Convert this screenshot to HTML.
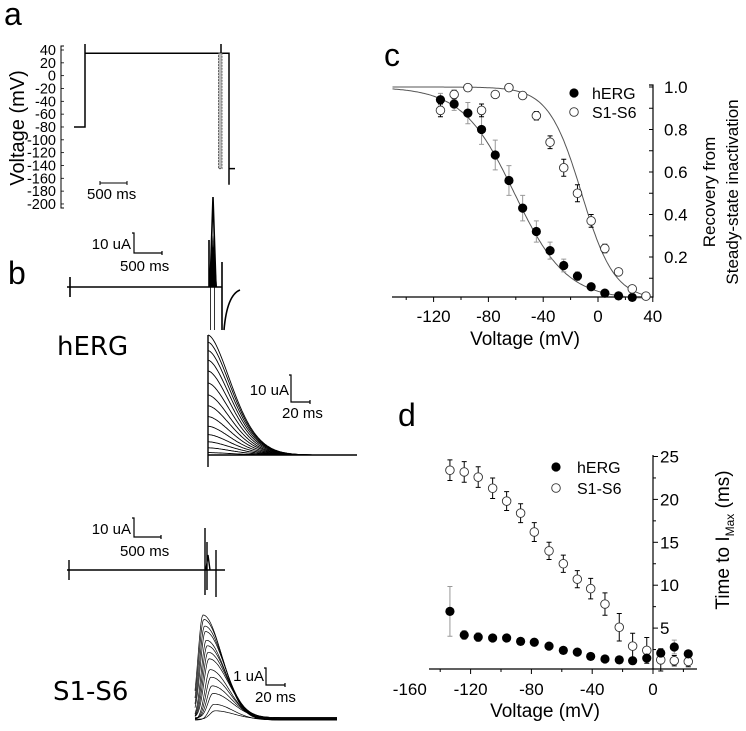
<!DOCTYPE html>
<html><head><meta charset="utf-8"><style>
body{margin:0;background:#fff}
svg{display:block;font-family:"Liberation Sans",sans-serif}
</style></head><body>
<svg id="fig" width="746" height="731" viewBox="0 0 746 731">
<g id="pa"></g>
<g id="pb"></g>
<g id="pc"></g>
<g id="pd"></g>
</svg>
<script>
// ---------- Panel c data ----------
const cHergV = [-115,-105,-95,-85,-75,-65,-55,-45,-35,-25,-15,-5,5,15,25];
const cHergY = [0.94,0.92,0.877,0.80,0.68,0.56,0.43,0.32,0.23,0.16,0.11,0.06,0.03,0.017,0.01];
const cHergErr = [0.03,0.03,0.05,0.07,0.07,0.07,0.06,0.05,0.04,0.03,0.02,0.01,0.01,0.01,0.01];
const cS1V = [-115,-105,-95,-85,-75,-65,-55,-45,-35,-25,-15,-5,5,15,25,35];
const cS1Y = [0.89,0.965,0.997,0.89,0.965,0.997,0.96,0.865,0.74,0.62,0.50,0.37,0.24,0.13,0.05,0.016];
const cS1Err = [0.03,0.02,0.01,0.03,0.01,0.01,0.01,0.02,0.03,0.04,0.04,0.03,0.02,0.01,0.01,0.01];
const cXTicks = [-120,-80,-40,0,40];
const cYTicks = [0.2,0.4,0.6,0.8,1.0];
const cFitHerg = [-61,19];
const cFitS1 = [-12,12];
// ---------- Panel d data ----------
const dV = [-133.6,-124.2,-115,-105.5,-96.3,-87.1,-78.1,-68.4,-59,-49.8,-41,-31.6,-22.2,-13.4,-4.1,5.1,14,23.2];
const dS1 = [23.4,23.2,22.6,21.3,19.8,18.4,16.2,14.0,12.5,10.7,9.6,7.8,5.1,2.9,2.4,1.3,1.2,1.1];
const dS1Err = [1.2,1.2,1.2,1.2,1.1,1.1,1.1,1.0,1.0,1.0,1.2,1.3,1.6,1.5,1.5,1.3,0.6,0.6];
const dHerg = [6.95,4.2,3.95,3.85,3.85,3.45,3.35,2.9,2.4,2.2,1.7,1.4,1.3,1.2,1.5,2.1,2.8,2.0];
const dHergErr = [2.9,0.5,0.5,0.4,0.4,0.4,0.4,0.3,0.3,0.3,0.3,0.2,0.2,0.2,0.3,0.3,0.8,0.3];
const dXTicks = [-160,-120,-80,-40,0];
const dYTicks = [5,10,15,20,25];
// ---------- Panel a/b trace data ----------
const aYTicks = [40,20,0,-20,-40,-60,-80,-100,-120,-140,-160,-180,-200];
const hergAmps = [1,0.94,0.87,0.79,0.7,0.6,0.5,0.41,0.32,0.24,0.17,0.11,0.06,0.02];
const s1Amps = [1,0.95,0.88,0.82,0.76,0.7,0.63,0.56,0.48,0.4,0.31,0.23,0.15,0.08];
const s1Delays = [0,0.8,1.6,2.4,3.3,4.2,5.1,6,7,8,9,10,11,12];

const NS="http://www.w3.org/2000/svg";
function mk(parent,tag,attrs,text){const e=document.createElementNS(NS,tag);for(const k in attrs)e.setAttribute(k,attrs[k]);if(text!==undefined)e.textContent=text;parent.appendChild(e);return e;}
const pa=document.getElementById('pa'),pb=document.getElementById('pb'),pc=document.getElementById('pc'),pd=document.getElementById('pd');
let e;

// ================= PANEL A =================
e=mk(pa,'text',{x:4,y:25,'font-size':32},'a');


const aY=v=>50+(40-v)/20*12.83;
e=mk(pa,'path',{d:`M64,${aY(40)-4}H61V${aY(-200)+4}H64`,stroke:'#000',fill:'none','stroke-width':1});


aYTicks.forEach(v=>{
  e=mk(pa,'text',{x:56,y:aY(v)+5,'font-size':14.5,'text-anchor':'end'},String(v));
  
  
  mk(pa,'line',{x1:61,x2:64,y1:aY(v),y2:aY(v),stroke:'#000','stroke-width':0.8});
});
e=mk(pa,'text',{x:0,y:0,'font-size':20,'text-anchor':'middle',transform:`translate(24,128) rotate(-90)`},'Voltage (mV)');


e=mk(pa,'path',{d:`M74,${aY(-80)}H85V${aY(35)}H229V${aY(-170)}M229,${aY(-145)}H235M85,44V${aY(35)}M221,44V62`,stroke:'#000',fill:'none','stroke-width':1.5});


e=mk(pa,'rect',{x:218.5,y:aY(35),width:3.5,height:aY(-145)-aY(35),fill:'#bbb',stroke:'#444','stroke-width':0.8,'stroke-dasharray':'2 1'});


e=mk(pa,'path',{d:'M100,181V185M100,183H127M127,181V185',stroke:'#000','stroke-width':1});


e=mk(pa,'text',{x:87,y:199,'font-size':15},'500 ms');



// ================= PANEL B =================
e=mk(pb,'text',{x:8,y:284,'font-size':32},'b');


function scaleBar(g,x,y0,y1,x1,lab1,lab1x,lab1y,lab2,lab2x,lab2y,name){
  e=mk(g,'path',{d:`M${x-2},${y0}H${x}V${y1}H${x1}M${x1},${y1-2}V${y1+2}`,stroke:'#000',fill:'none','stroke-width':1.2});
  
  
  e=mk(g,'text',{x:lab1x,y:lab1y,'font-size':15,'text-anchor':'end'},lab1);
  
  
  e=mk(g,'text',{x:lab2x,y:lab2y,'font-size':15},lab2);
  
  
}
scaleBar(pb,134,233,253,162,'10 uA',131,249,'500 ms',120,271,'herg-long-scale-bar');
e=mk(pb,'path',{d:'M67,287H222M70,277V297M222,262V330M224,330Q227,295 240,290M210,287L213,197L216,287M209,287V240',stroke:'#000',fill:'none','stroke-width':1.6});


e=mk(pb,'path',{d:'M209,287L213,235L217,287Z',fill:'#000'});


mk(pb,'line',{x1:212.5,x2:212.5,y1:290,y2:330,stroke:'#fff','stroke-width':1.5,'stroke-dasharray':'3 2'});
mk(pb,'line',{x1:210.5,x2:210.5,y1:287,y2:330,stroke:'#000','stroke-width':0.8});
mk(pb,'line',{x1:214.5,x2:214.5,y1:287,y2:330,stroke:'#000','stroke-width':0.8});
e=mk(pb,'text',{x:57,y:355,'font-size':26,'font-family':'"DejaVu Sans",sans-serif'},'hERG');


const hx0=208,hBase=455,hH=120;
e=mk(pb,'path',{d:`M${hx0},${hBase-hH}V467M${hx0},${hBase}H357`,stroke:'#000',fill:'none','stroke-width':1.4});


hergAmps.forEach((A,i)=>{
  let d=`M${hx0},${hBase-A*hH}`;
  for(let t=1;t<=110;t++){d+=`L${hx0+t},${(hBase-A*hH*Math.exp(-Math.pow(t/34,1.7))).toFixed(1)}`;}
  e=mk(pb,'path',{d,stroke:'#000',fill:'none','stroke-width':0.9});
  
  
});
scaleBar(pb,291,375,402,310,'10 uA',289,395,'20 ms',282,418,'herg-zoom-scale-bar');
scaleBar(pb,134,518,537,161,'10 uA',131,534,'500 ms',120,556,'s1s6-long-scale-bar');
e=mk(pb,'path',{d:'M67,570H225M69,560V580M205,528V595M207,542V590M216,550V597M206,570L208,555L210,570',stroke:'#000',fill:'none','stroke-width':1.4});


e=mk(pb,'text',{x:53,y:700,'font-size':26,'font-family':'"DejaVu Sans",sans-serif'},'S1-S6');


const sx0=195,sBase=720,sH=105;
s1Amps.forEach((A,i)=>{
  const tp=8+s1Delays[i];
  let d='';
  for(let t=0;t<=142;t++){
    const dt=t-tp;
    const v= dt<0? Math.exp(-dt*dt/(2*5*5)) : Math.exp(-dt*dt/(2*19*19));
    const y=sBase-A*sH*v-(i%4)*0.8;
    d+=(t?'L':'M')+(sx0+t)+','+y.toFixed(1);
  }
  e=mk(pb,'path',{d,stroke:'#000',fill:'none','stroke-width':0.7});
  
  
});
scaleBar(pb,266,668,685,285,'1 uA',264,681,'20 ms',255,702,'s1s6-zoom-scale-bar');

// ================= PANEL C =================
const cx=v=>598+v*1.37, cy=v=>299.5-v*212.5;
e=mk(pc,'text',{x:384,y:66,'font-size':32},'c');


e=mk(pc,'path',{d:`M392,297H653V85H649`,stroke:'#000',fill:'none','stroke-width':1.2});


for(let v=-140;v<=40;v+=20){mk(pc,'line',{x1:cx(v),x2:cx(v),y1:297,y2:v%40===0?302:300,stroke:'#000','stroke-width':1});}
cXTicks.forEach(v=>{
  e=mk(pc,'text',{x:cx(v),y:322,'font-size':17,'text-anchor':'middle'},String(v));
  
  
});
for(let v=0.1;v<=1.01;v+=0.1){mk(pc,'line',{x1:653,x2:649,y1:cy(v),y2:cy(v),stroke:'#000','stroke-width':1});}
cYTicks.forEach(v=>{
  e=mk(pc,'text',{x:664,y:cy(v)+6,'font-size':17},v.toFixed(1));
  
  
});
e=mk(pc,'text',{x:525,y:345,'font-size':19,'text-anchor':'middle'},'Voltage (mV)');


e=mk(pc,'text',{x:0,y:0,'font-size':17,'text-anchor':'middle',transform:'translate(715,192) rotate(-90)'},'Recovery from');


e=mk(pc,'text',{x:0,y:0,'font-size':17,'text-anchor':'middle',transform:'translate(738,192) rotate(-90)'},'Steady-state inactivation');


function fitPath(p){let d='';for(let v=-150;v<=38;v+=1){const y=1/(1+Math.exp((v-p[0])/p[1]));d+=(v>-150?'L':'M')+cx(v).toFixed(1)+','+cy(y).toFixed(1);}return d;}
e=mk(pc,'path',{d:fitPath(cFitHerg),stroke:'#555',fill:'none','stroke-width':1});


e=mk(pc,'path',{d:fitPath(cFitS1),stroke:'#555',fill:'none','stroke-width':1});


function errBar(g,x,y1,y2,col){mk(g,'path',{d:`M${x},${y1}V${y2}M${x-2.5},${y1}H${x+2.5}M${x-2.5},${y2}H${x+2.5}`,stroke:col,'stroke-width':1});}
cHergV.forEach((v,i)=>{
  errBar(pc,cx(v),cy(cHergY[i]+cHergErr[i]),cy(cHergY[i]-cHergErr[i]),'#999');
  e=mk(pc,'circle',{cx:cx(v),cy:cy(cHergY[i]),r:4.6,fill:'#000'});
  
  
});
cS1V.forEach((v,i)=>{
  errBar(pc,cx(v),cy(cS1Y[i]+cS1Err[i]),cy(cS1Y[i]-cS1Err[i]),'#000');
  e=mk(pc,'circle',{cx:cx(v),cy:cy(cS1Y[i]),r:4.3,fill:'#fff',stroke:'#333','stroke-width':0.9});
  
  
});
e=mk(pc,'circle',{cx:574,cy:93,r:4.6,fill:'#000'});


e=mk(pc,'text',{x:592,y:99,'font-size':16},'hERG');


e=mk(pc,'circle',{cx:574,cy:112,r:4.3,fill:'#fff',stroke:'#333','stroke-width':0.9});


e=mk(pc,'text',{x:592,y:118,'font-size':16},'S1-S6');



// ================= PANEL D =================
const dx=v=>653+v*1.52, dy=v=>671-v*8.58;
e=mk(pd,'text',{x:398,y:426,'font-size':32},'d');


e=mk(pd,'path',{d:`M429,669H697M653,669V455`,stroke:'#000',fill:'none','stroke-width':1.2});


for(let v=-140;v<=20;v+=20){mk(pd,'line',{x1:dx(v),x2:dx(v),y1:669,y2:v%40===0?674:672,stroke:'#000','stroke-width':1});}
dXTicks.forEach(v=>{
  e=mk(pd,'text',{x:dx(v),y:695,'font-size':17,'text-anchor':'middle'},String(v));
  
  
});
for(let v=2.5;v<=25;v+=2.5){mk(pd,'line',{x1:653,x2:v%5===0?658:656,y1:dy(v),y2:dy(v),stroke:'#000','stroke-width':1});}
dYTicks.forEach(v=>{
  e=mk(pd,'text',{x:660,y:dy(v)+6,'font-size':17},String(v));
  
  
});
e=mk(pd,'text',{x:545,y:717,'font-size':19,'text-anchor':'middle'},'Voltage (mV)');


e=mk(pd,'text',{x:0,y:0,'font-size':19,'text-anchor':'middle',transform:'translate(729,540) rotate(-90)'});


mk(e,'tspan',{},'Time to I');
mk(e,'tspan',{'font-size':12,dy:5},'Max');
mk(e,'tspan',{dy:-5},' (ms)');
dV.forEach((v,i)=>{
  errBar(pd,dx(v),dy(dS1[i]+dS1Err[i]),dy(dS1[i]-dS1Err[i]),'#000');
  e=mk(pd,'circle',{cx:dx(v),cy:dy(dS1[i]),r:4.3,fill:'#fff',stroke:'#333','stroke-width':0.9});
  
  
});
dV.forEach((v,i)=>{
  errBar(pd,dx(v),dy(dHerg[i]+dHergErr[i]),dy(dHerg[i]-dHergErr[i]),'#999');
  e=mk(pd,'circle',{cx:dx(v),cy:dy(dHerg[i]),r:4.6,fill:'#000'});
  
  
});
e=mk(pd,'circle',{cx:556,cy:467,r:4.6,fill:'#000'});


e=mk(pd,'text',{x:577,y:473,'font-size':16},'hERG');


e=mk(pd,'circle',{cx:556,cy:488,r:4.3,fill:'#fff',stroke:'#333','stroke-width':0.9});


e=mk(pd,'text',{x:577,y:494,'font-size':16},'S1-S6');


</script>
</body></html>
